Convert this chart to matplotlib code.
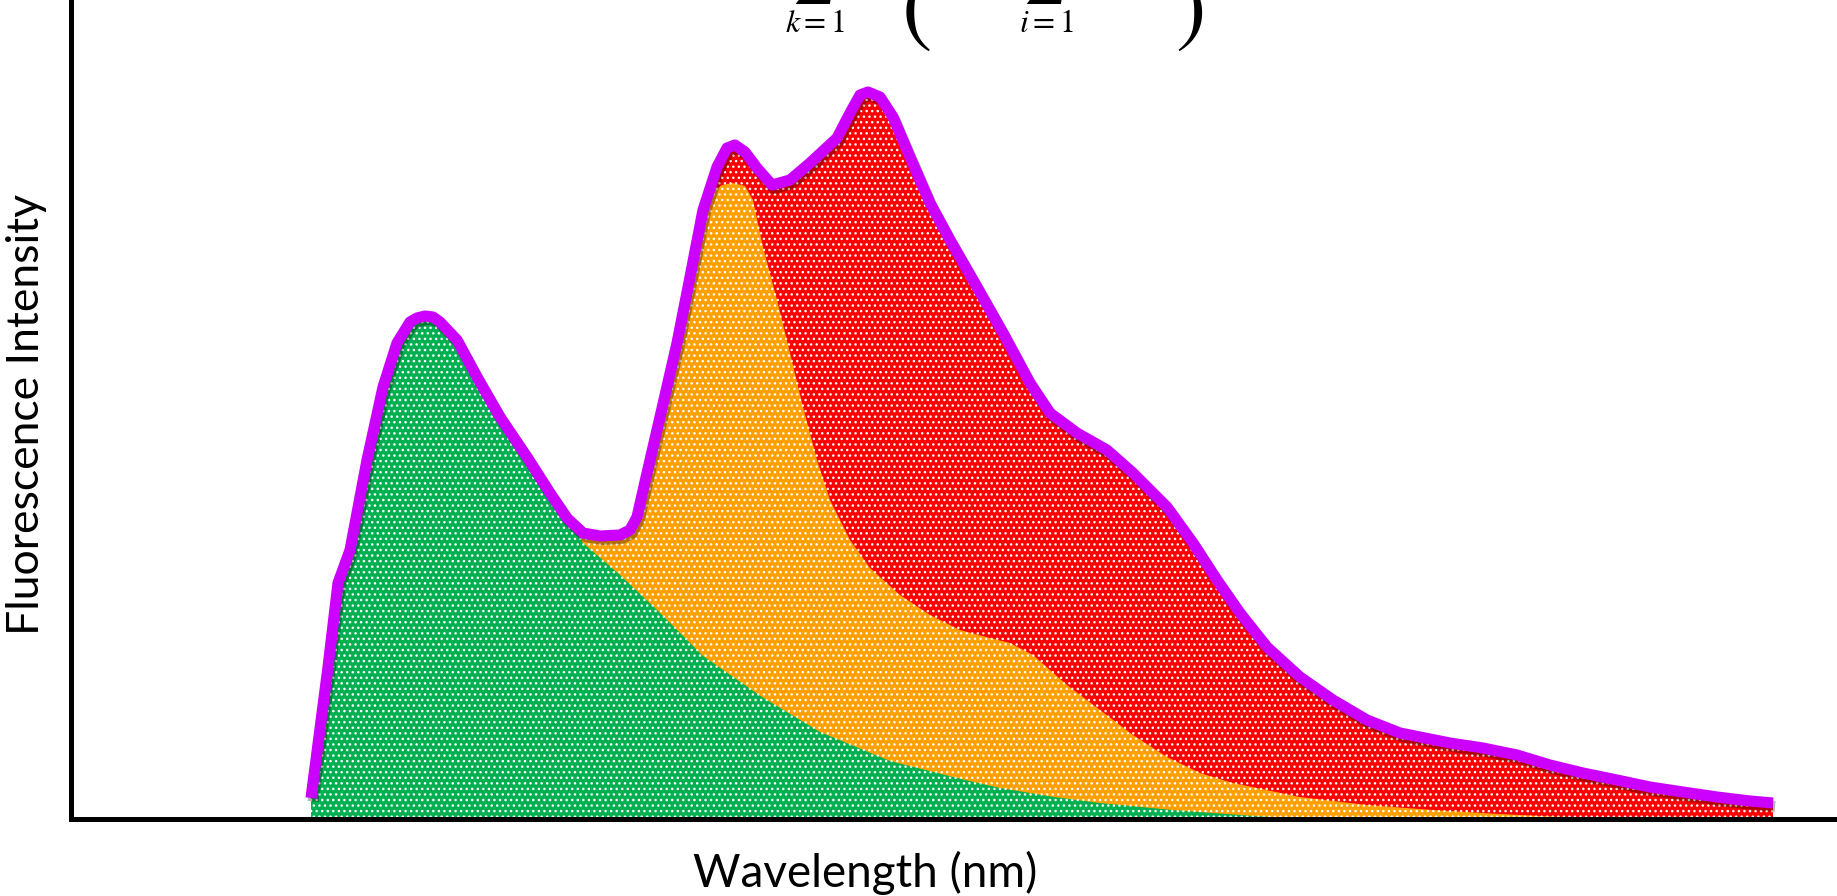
import matplotlib
matplotlib.use("Agg")
import matplotlib.pyplot as plt
import matplotlib.patheffects as pe

# Summed emission envelope (a.u.)
total_wl = [398.0, 401.4, 403.4, 405.8, 409.2, 412.4, 415.2, 417.8, 419.2, 420.8,
            422.4, 423.8, 427.2, 431.2, 435.8, 441.2, 445.8, 449.2, 452.4, 455.8,
            459.8, 461.8, 463.2, 465.2, 467.8, 471.2, 473.8, 476.4, 479.2, 481.2,
            482.8, 484.8, 487.2, 490.2, 493.8, 497.8, 503.2, 505.8, 507.8, 509.4,
            511.8, 514.4, 517.8, 521.8, 525.8, 531.2, 536.4, 541.8, 545.8, 551.2,
            557.2, 562.4, 569.2, 574.4, 579.2, 583.8, 589.2, 595.8, 602.4, 609.2,
            615.8, 625.8, 632.4, 639.2, 645.8, 652.4, 659.2, 665.8, 672.4, 679.2,
            685.8, 690.4]
total_int = [21, 152, 236, 269, 359, 432, 476, 497, 501, 503,
             502, 497, 479, 442, 402, 362, 326, 301, 286, 283,
             284, 289, 302, 346, 402, 476, 542, 609, 652, 671,
             674, 667, 651, 634, 639, 656, 681, 706, 724, 727,
             722, 702, 662, 616, 579, 532, 486, 436, 406, 386,
             369, 346, 312, 276, 239, 206, 172, 142, 119, 99,
             86, 76, 71, 64, 54, 46, 39, 32, 27, 22,
             18, 16]

# Green + orange components (cumulative top)
orange_wl = [398.0, 401.4, 403.4, 405.8, 409.2, 412.4, 415.2, 417.8, 420.8, 423.8,
             427.2, 431.2, 435.8, 441.2, 445.8, 449.2, 452.4, 455.8, 459.8, 461.8,
             463.2, 465.2, 467.8, 471.2, 473.8, 476.4, 478.2, 480.2, 482.4, 484.8,
             486.4, 488.4, 491.2, 493.8, 496.4, 499.2, 501.8, 505.8, 509.8, 515.8,
             521.8, 527.8, 533.8, 537.8, 542.4, 549.2, 555.8, 562.4, 569.2, 575.8,
             582.4, 595.8, 609.2, 622.4, 635.8, 647.8, 659.8]
orange_int = [21, 152, 236, 269, 359, 432, 476, 497, 503, 497,
              479, 442, 402, 362, 326, 301, 286, 283, 284, 289,
              302, 346, 402, 476, 542, 609, 627, 634, 636, 633,
              619, 572, 519, 466, 412, 359, 319, 279, 251, 224,
              204, 189, 181, 176, 164, 134, 109, 84, 62, 46,
              36, 22, 14, 9, 5, 2, 0]

# Green component
green_wl = [398.0, 401.4, 403.4, 405.8, 409.2, 412.4, 415.2, 417.8, 420.8, 423.8,
            427.2, 431.2, 435.8, 441.2, 445.8, 452.4, 459.8, 467.0, 476.4, 488.2,
            499.8, 513.8, 528.0, 535.8, 546.6, 555.8, 570.2, 583.8, 595.8]
green_int = [21, 152, 236, 269, 359, 432, 476, 497, 503, 497,
             479, 442, 402, 362, 329, 276, 244, 210, 163, 122,
             87, 58, 40, 31, 22, 16, 9, 4, 0]

GREEN = "#00B050"
ORANGE = "#FFA000"
RED = "#FF0000"
PURPLE = "#CC00FF"

plt.rcParams["font.family"] = ["Lato", "DejaVu Sans"]
plt.rcParams["mathtext.fontset"] = "stix"
plt.rcParams["hatch.color"] = "white"
plt.rcParams["hatch.linewidth"] = 1.0

fig = plt.figure(figsize=(18.37, 8.96), dpi=100)
ax = fig.add_axes([71 / 1837, 77 / 896, 1766 / 1837, 819 / 896])

# stacked areas, back to front
ax.fill_between(total_wl, total_int, 0, facecolor=RED, linewidth=0, hatch="...")
ax.fill_between(orange_wl, orange_int, 0, facecolor=ORANGE, linewidth=0, hatch="...")
ax.fill_between(green_wl, green_int, 0, facecolor=GREEN, linewidth=0, hatch="...")

ax.plot(total_wl, total_int, color=PURPLE, linewidth=8,
        solid_capstyle="butt", solid_joinstyle="round",
        path_effects=[pe.SimpleLineShadow(offset=(1.5, -2.5), shadow_color="black", alpha=0.3),
                      pe.Normal()])

ax.set_xlim(350, 703.2)
ax.set_ylim(0, 819)
ax.set_xticks([])
ax.set_yticks([])
for side in ("top", "right"):
    ax.spines[side].set_visible(False)
for side in ("left", "bottom"):
    ax.spines[side].set_linewidth(3.6)
    ax.spines[side].set_color("black")
ax.patch.set_alpha(0)

fig.text(27 / 1837, 1 - 414 / 896, "Fluorescence Intensity", rotation=90,
         ha="center", va="center", fontsize=32)
fig.text(865 / 1837, 1 - 873 / 896, "Wavelength (nm)",
         ha="center", va="center", fontsize=33)

# model expression along the top edge (mostly above the frame)
W, H = 1837, 896
fig.text(813 / W, 1 - 6 / H, r"$\sum$", ha="center", va="bottom", fontsize=33)
fig.text(815 / W, 1 - 38 / H, r"$k=1$", ha="center", va="bottom", fontsize=23)
fig.text(1044 / W, 1 - 6 / H, r"$\sum$", ha="center", va="bottom", fontsize=33)
fig.text(1046 / W, 1 - 38 / H, r"$i=1$", ha="center", va="bottom", fontsize=23)
fig.text(916 / W, 1 - 53 / H, r"$($", ha="center", va="bottom", fontsize=66)
fig.text(1189 / W, 1 - 53 / H, r"$)$", ha="center", va="bottom", fontsize=66)

fig.savefig("out.png", dpi=100)
